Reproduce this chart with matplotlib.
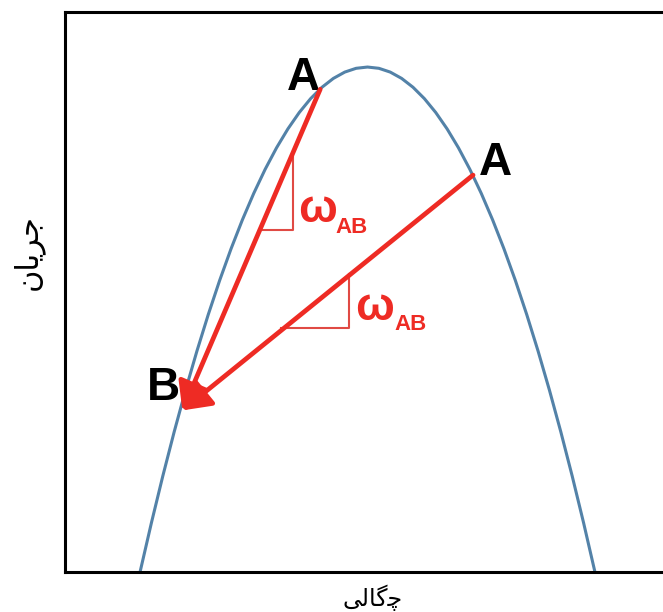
import matplotlib.pyplot as plt

# fundamental diagram, points (density, flow)
density = [0, 2.5, 5, 7.5, 10, 12.5, 15, 17.5, 20, 22.5, 25, 27.5, 30, 32.5,
           35, 37.5, 40, 42.5, 45, 47.5, 50, 52.5, 55, 57.5, 60, 62.5, 65,
           67.5, 70, 72.5, 75, 77.5, 80, 82.5, 85, 87.5, 90, 92.5, 95, 97.5, 100]
flow = [0, 9.75, 19, 27.75, 36, 43.75, 51, 57.75, 64, 69.75, 75, 79.75, 84,
        87.75, 91, 93.75, 96, 97.75, 99, 99.75, 100, 99.75, 99, 97.75, 96,
        93.75, 91, 87.75, 84, 79.75, 75, 69.75, 64, 57.75, 51, 43.75, 36,
        27.75, 19, 9.75, 0]

point_a1 = (39.6, 95.6)
point_a2 = (73.2, 78.6)
point_b = (9.3, 32.0)

# slope triangles under each arrow
tri1_k = [26.2, 33.6, 33.6]
tri1_q = [67.7, 67.7, 83.1]
tri2_k = [30.9, 45.9, 45.9]
tri2_q = [48.3, 48.3, 59.0]

x_label = 'ﯽﻟﺎﮔﭼ'   # چگالی, shaped by hand
y_label = 'ﻥﺎﯾﺮﺟ'   # جریان

red = '#ee2b24'
blue = '#5382a8'

fig = plt.figure(figsize=(6.63, 6.12), dpi=100)
ax = fig.add_axes([65 / 663, 40 / 612, 605 / 663, 560 / 612])

ax.plot(density, flow, color=blue, lw=2.2, zorder=2)

ax.plot(tri1_k, tri1_q, color='#e04a44', lw=1.5, zorder=3)
ax.plot(tri2_k, tri2_q, color='#e04a44', lw=1.5, zorder=3)

for start in (point_a1, point_a2):
    ax.annotate('', xy=point_b, xytext=start,
                arrowprops=dict(arrowstyle='-|>,head_length=0.6,head_width=0.35',
                                color=red, lw=3.4, mutation_scale=28,
                                shrinkA=0, shrinkB=0),
                zorder=4)

ax.text(32.3, 95.4, 'A', fontsize=33, fontweight='bold', family='Liberation Sans',
        ha='left', va='baseline')
ax.text(74.5, 78.6, 'A', fontsize=33, fontweight='bold', family='Liberation Sans',
        ha='left', va='baseline')
ax.text(1.5, 34.1, 'B', fontsize=33, fontweight='bold', family='Liberation Sans',
        ha='left', va='baseline')

ax.text(34.7, 69.3, 'ω', fontsize=33, fontweight='bold', family='Liberation Sans',
        color=red, ha='left', va='baseline')
ax.text(42.9, 67.1, 'AB', fontsize=16, fontweight='bold', family='Liberation Sans',
        color=red, ha='left', va='baseline')
ax.text(47.3, 49.9, 'ω', fontsize=33, fontweight='bold', family='Liberation Sans',
        color=red, ha='left', va='baseline')
ax.text(56.0, 47.9, 'AB', fontsize=16, fontweight='bold', family='Liberation Sans',
        color=red, ha='left', va='baseline')

ax.set_xlim(-16.5, 116.5)
ax.set_ylim(0, 110.9)
ax.set_xticks([])
ax.set_yticks([])
for side in ax.spines.values():
    side.set_linewidth(2.2)
ax.spines['right'].set_visible(False)

fig.text(373 / 663, 1 - 598 / 612, x_label, fontsize=17, family='DejaVu Sans',
         ha='center', va='center')
fig.text(28 / 663, 1 - 252 / 612, y_label, fontsize=22, family='DejaVu Sans',
         rotation=90, ha='center', va='center')

fig.savefig('out.png', dpi=100)
